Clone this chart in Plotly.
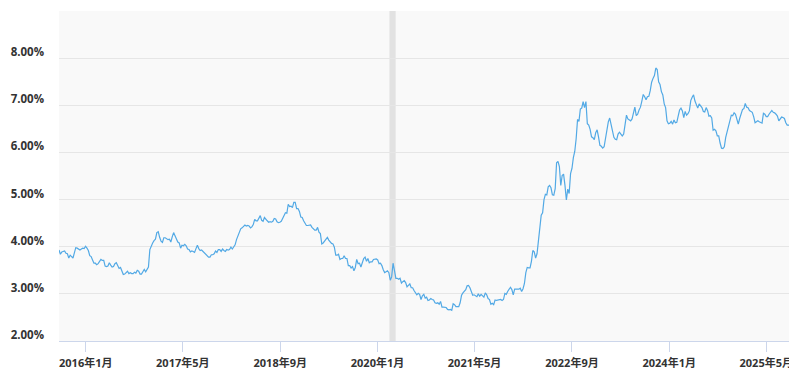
import pandas as pd
import plotly.graph_objects as go

# Weekly 30-year fixed mortgage rate (%), Thursdays starting 2015-08-20
start_date = "2015-08-20"
rates_2015 = [3.93, 3.84, 3.89, 3.90, 3.91, 3.86, 3.85, 3.76, 3.82, 3.79, 3.76,
              3.87, 3.98, 3.97, 3.95, 3.93, 3.95, 3.97, 3.96, 4.01]
rates_2016 = [3.97, 3.92, 3.81, 3.79, 3.72, 3.65, 3.65, 3.62, 3.64, 3.68, 3.73, 3.71, 3.71,
              3.59, 3.58, 3.59, 3.66, 3.61, 3.57, 3.58, 3.64, 3.66, 3.60, 3.54, 3.56, 3.48,
              3.41, 3.42, 3.45, 3.48, 3.43, 3.45, 3.43, 3.43, 3.46, 3.44, 3.50, 3.48, 3.42,
              3.42, 3.47, 3.52, 3.47, 3.54, 3.57, 3.94, 4.03, 4.08, 4.13, 4.16, 4.30, 4.32]
rates_2017 = [4.20, 4.12, 4.09, 4.19, 4.19, 4.17, 4.15, 4.16, 4.10, 4.21, 4.30, 4.23, 4.14,
              4.10, 4.08, 3.97, 4.03, 4.02, 4.05, 4.02, 3.95, 3.94, 3.89, 3.91, 3.90, 3.88,
              3.96, 4.03, 3.96, 3.92, 3.93, 3.90, 3.89, 3.86, 3.82, 3.78, 3.78, 3.83, 3.83,
              3.85, 3.91, 3.88, 3.94, 3.94, 3.90, 3.95, 3.92, 3.90, 3.94, 3.93, 3.94, 3.99]
rates_2018 = [3.95, 3.99, 4.04, 4.15, 4.22, 4.32, 4.38, 4.40, 4.43, 4.46, 4.44, 4.45, 4.44,
              4.40, 4.42, 4.47, 4.58, 4.55, 4.55, 4.61, 4.66, 4.56, 4.54, 4.62, 4.57, 4.55,
              4.52, 4.53, 4.52, 4.54, 4.60, 4.59, 4.53, 4.51, 4.52, 4.54, 4.60, 4.65, 4.72,
              4.71, 4.90, 4.85, 4.86, 4.83, 4.94, 4.94, 4.81, 4.81, 4.75, 4.63, 4.62, 4.55]
rates_2019 = [4.51, 4.45, 4.45, 4.45, 4.46, 4.41, 4.37, 4.35, 4.35, 4.41, 4.31, 4.28, 4.06,
              4.08, 4.12, 4.17, 4.20, 4.14, 4.10, 4.07, 4.06, 3.99, 3.82, 3.82, 3.84, 3.73,
              3.75, 3.75, 3.81, 3.75, 3.75, 3.60, 3.60, 3.55, 3.58, 3.49, 3.56, 3.73, 3.64,
              3.65, 3.57, 3.69, 3.75, 3.78, 3.69, 3.75, 3.66, 3.68, 3.68, 3.73, 3.73, 3.74]
rates_2020 = [3.72, 3.64, 3.65, 3.60, 3.51, 3.45, 3.47, 3.49, 3.45, 3.29, 3.36, 3.65, 3.50,
              3.33, 3.33, 3.31, 3.33, 3.23, 3.26, 3.28, 3.24, 3.15, 3.18, 3.21, 3.13, 3.13,
              3.07, 3.03, 2.98, 3.01, 2.99, 2.88, 2.96, 2.99, 2.91, 2.93, 2.86, 2.87, 2.90,
              2.88, 2.87, 2.81, 2.80, 2.81, 2.78, 2.84, 2.72, 2.72, 2.71, 2.71, 2.67, 2.66, 2.67]
rates_2021 = [2.65, 2.79, 2.77, 2.73, 2.73, 2.73, 2.81, 2.97, 3.02, 3.05, 3.09, 3.17,
              3.18, 3.13, 3.04, 2.97, 2.98, 2.96, 2.94, 3.00, 2.95, 2.99, 2.96, 2.93, 3.02,
              2.98, 2.90, 2.88, 2.78, 2.80, 2.77, 2.87, 2.86, 2.87, 2.87, 2.88, 2.86, 2.88, 3.01,
              2.99, 3.05, 3.09, 3.14, 3.09, 2.98, 3.10, 3.10, 3.11, 3.10, 3.12, 3.05, 3.11]
rates_2022 = [3.22, 3.45, 3.56, 3.55, 3.55, 3.69, 3.92, 3.89, 3.76, 3.85, 4.16, 4.42, 4.67,
              4.72, 5.00, 5.11, 5.10, 5.27, 5.30, 5.25, 5.10, 5.09, 5.23, 5.78, 5.81, 5.70,
              5.30, 5.51, 5.54, 5.30, 4.99, 5.22, 5.13, 5.55, 5.66, 5.89, 6.02, 6.29, 6.70,
              6.66, 6.92, 6.94, 7.08, 6.95, 7.08, 6.61, 6.58, 6.49, 6.33, 6.31, 6.27, 6.42]
rates_2023 = [6.48, 6.33, 6.15, 6.13, 6.09, 6.12, 6.32, 6.50, 6.65, 6.73, 6.60, 6.42, 6.32,
              6.28, 6.27, 6.39, 6.43, 6.39, 6.35, 6.39, 6.57, 6.79, 6.71, 6.69, 6.67, 6.71,
              6.81, 6.96, 6.78, 6.81, 6.90, 6.96, 7.09, 7.23, 7.18, 7.12, 7.18, 7.19, 7.31,
              7.49, 7.57, 7.63, 7.79, 7.76, 7.50, 7.44, 7.29, 7.22, 7.03, 6.95, 6.67, 6.61]
rates_2024 = [6.62, 6.66, 6.60, 6.69, 6.63, 6.64, 6.77, 6.90, 6.94, 6.88, 6.74, 6.87, 6.79,
              6.82, 6.88, 7.10, 7.17, 7.22, 7.09, 7.02, 6.94, 7.03, 6.99, 6.95, 6.87, 6.86,
              6.95, 6.89, 6.77, 6.78, 6.73, 6.47, 6.49, 6.46, 6.35, 6.35, 6.20, 6.09, 6.08,
              6.12, 6.32, 6.44, 6.54, 6.72, 6.79, 6.78, 6.84, 6.81, 6.69, 6.60, 6.72, 6.85]
rates_2025 = [6.91, 6.93, 7.04, 6.96, 6.95, 6.89, 6.87, 6.85, 6.76, 6.63, 6.65, 6.67, 6.65,
              6.64, 6.62, 6.83, 6.81, 6.76, 6.76, 6.81, 6.86, 6.89, 6.85, 6.84, 6.81, 6.77,
              6.67, 6.72, 6.75, 6.74, 6.72, 6.63, 6.58, 6.58, 6.56]

rates = (rates_2015 + rates_2016 + rates_2017 + rates_2018 + rates_2019 + rates_2020
         + rates_2021 + rates_2022 + rates_2023 + rates_2024 + rates_2025)
dates = pd.date_range(start=start_date, periods=len(rates), freq="7D")

# Axis ticks
x_tick_dates = ["2016-01-01", "2017-05-01", "2018-09-01", "2020-01-01",
                "2021-05-01", "2022-09-01", "2024-01-01", "2025-05-01"]
x_tick_labels = ["2016年1月", "2017年5月", "2018年9月", "2020年1月",
                 "2021年5月", "2022年9月", "2024年1月", "2025年5月"]
y_tick_vals = [2, 3, 4, 5, 6, 7, 8, 9]
y_tick_labels = ["2.00%", "3.00%", "4.00%", "5.00%", "6.00%", "7.00%", "8.00%", ""]

# Recession shading
recession_start = "2020-03-01"
recession_end = "2020-04-01"

FONT = "Open Sans, 'Noto Sans CJK SC', sans-serif"

fig = go.Figure()
fig.add_trace(go.Scatter(
    x=dates, y=rates, mode="lines",
    line=dict(color="#52a9e5", width=1.2),
    showlegend=False, hoverinfo="x+y",
))

fig.add_shape(type="rect", xref="x", yref="paper",
              x0=recession_start, x1=recession_end, y0=0, y1=1,
              fillcolor="#e2e2e2", line=dict(width=0), layer="below")

# The page body has an 8px margin, so the figure is sized to the visible area
fig.update_layout(
    width=789, height=372,
    margin=dict(l=51, r=7, t=3, b=39, autoexpand=False),
    paper_bgcolor="#ffffff",
    plot_bgcolor="#f9f9f9",
    font=dict(family=FONT, size=11, color="#333333"),
    showlegend=False,
)
fig.update_xaxes(
    range=[dates[0], dates[-1]],
    tickvals=x_tick_dates, ticktext=x_tick_labels,
    showgrid=False, zeroline=False, automargin=False,
    showline=True, linecolor="#ccd6eb", linewidth=1,
    ticks="outside", ticklen=10, tickcolor="#ccd6eb", tickwidth=1,
    ticklabelstandoff=2,
    tickfont=dict(family=FONT, size=11, color="#333333", weight="bold"),
)
fig.update_yaxes(
    range=[2, 9],
    tickvals=y_tick_vals, ticktext=y_tick_labels,
    showgrid=True, gridcolor="#e6e6e6", gridwidth=1,
    zeroline=False, showline=False, ticks="", automargin=False,
    ticklabelshift=-6, ticklabelstandoff=14,
    tickfont=dict(family=FONT, size=11.5, color="#333333", weight="bold"),
)

fig.write_html("out.html")
